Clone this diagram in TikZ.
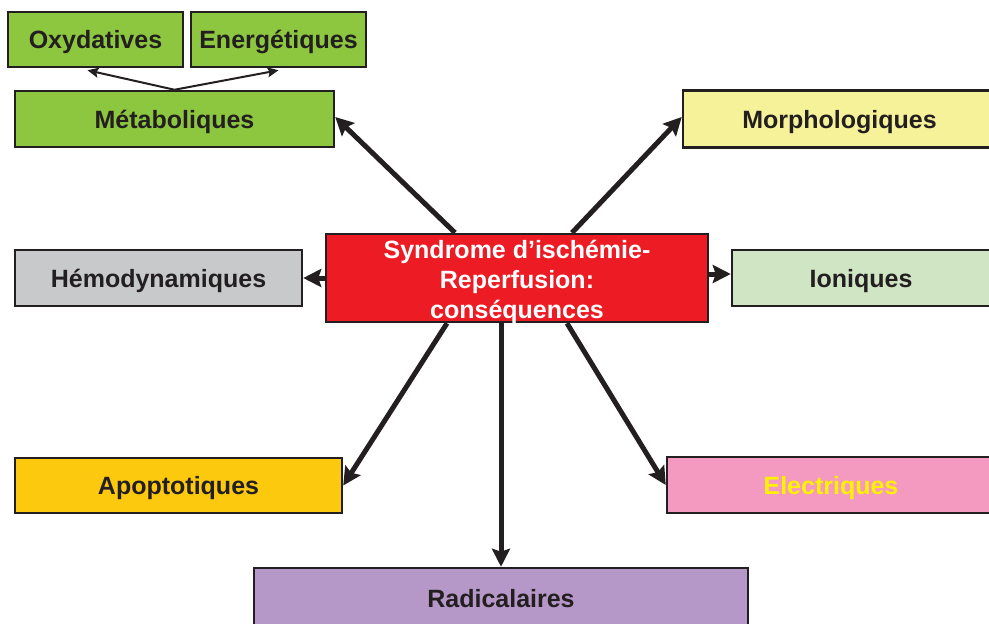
\documentclass[tikz,border=0pt]{standalone}
\usepackage{fontspec}
\setmainfont{Liberation Sans}
\usetikzlibrary{arrows.meta}
\definecolor{ink}{HTML}{231F20}
\definecolor{cgreen}{HTML}{8DC63F}
\definecolor{cyellow}{HTML}{F6F29A}
\definecolor{clgreen}{HTML}{D0E5C3}
\definecolor{cred}{HTML}{ED1C24}
\definecolor{cgrey}{HTML}{C8C9CB}
\definecolor{cgold}{HTML}{FCC90F}
\definecolor{cpink}{HTML}{F49AC1}
\definecolor{cpurple}{HTML}{B598C8}
\definecolor{ctext}{HTML}{FFF200}
\tikzset{
  box/.style={draw=ink, line width=2.5pt, rectangle, inner sep=0pt, align=center,
    text=ink, font=\fontsize{25}{30}\selectfont\bfseries, text height=22pt, text depth=4pt},
  bigarr/.style={draw=ink, line width=5pt, -{Stealth[length=18pt,width=18pt,inset=3pt]}},
  smallarr/.style={draw=ink, line width=2pt, -{Stealth[length=11pt,width=10pt,inset=2pt]}},
}
\begin{document}
\begin{tikzpicture}[x=1pt,y=-1pt]
\useasboundingbox (0,0) rectangle (989,624);
\clip (0,0) rectangle (989,624);
\fill[white] (0,0) rectangle (989,624);
% nodes
\node[box, fill=cgreen, minimum width=175pt, minimum height=55pt] (oxy) at (95.5,39.5) {Oxydatives};
\node[box, fill=cgreen, minimum width=175pt, minimum height=55pt] (ene) at (278.5,39.5) {Energétiques};
\node[box, fill=cgreen, minimum width=319pt, minimum height=56pt] (meta) at (174.5,119) {Métaboliques};
\node[box, fill=cyellow, minimum width=313pt, minimum height=57pt] (morph) at (839.5,119) {Morphologiques};
\node[box, fill=cred, minimum width=382pt, minimum height=88pt] (c) at (517,278) {};
\node[align=center, text=white, inner sep=0pt, font=\fontsize{25}{30}\selectfont\bfseries] (ctxt) at (517,282)
  {Syndrome d’ischémie-\\Reperfusion:\\conséquences};
\node[box, fill=cgrey, minimum width=287pt, minimum height=56pt] (hemo) at (158.5,278) {Hémodynamiques};
\node[box, fill=clgreen, minimum width=258pt, minimum height=56pt] (ion) at (861,278) {Ioniques};
\node[box, fill=cgold, minimum width=327pt, minimum height=55pt] (apop) at (178.5,485.5) {Apoptotiques};
\node[box, fill=cpink, text=ctext, minimum width=328pt, minimum height=56pt] (elec) at (831,485) {Electriques};
\node[box, fill=cpurple, minimum width=494pt, minimum height=60pt] (radic) at (501,598) {Radicalaires};
% thin arrows
\draw[smallarr] (meta.north) -- ([xshift=-8pt,yshift=-2pt]oxy.south);
\draw[smallarr] (meta.north) -- ([yshift=-2pt]ene.south);
% thick arrows
\draw[bigarr] ([xshift=-62pt]c.north) -- ([yshift=2pt]meta.east);
\draw[bigarr] ([xshift=55pt]c.north) -- ([yshift=2pt]morph.west);
\draw[bigarr] (c.west) -- (hemo.east);
\draw[bigarr] ([yshift=4pt]c.east) -- ([yshift=4pt]ion.west);
\draw[bigarr] ([xshift=-70pt]c.south) -- (apop.east);
\draw[bigarr] ([xshift=50pt]c.south) -- (elec.west);
\draw[bigarr] (c.south -| radic.north) -- (radic.north);
\end{tikzpicture}
\end{document}
